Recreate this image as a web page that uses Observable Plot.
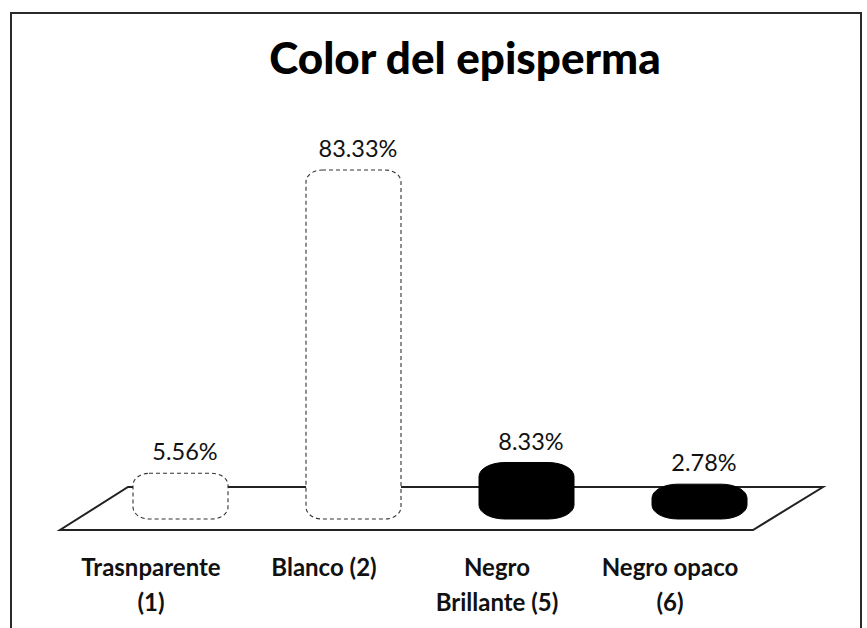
<!DOCTYPE html>
<html>
<head>
<meta charset="utf-8">
<script src="https://cdn.jsdelivr.net/npm/d3@7"></script>
<script src="https://cdn.jsdelivr.net/npm/@observablehq/plot@0.6"></script>
<style>
  html, body { margin: 0; padding: 0; background: #fff; overflow: hidden; }
  #wrap { position: relative; width: 867px; height: 628px; overflow: hidden; background: #fff; }
  #border { position: absolute; left: 10px; top: 12px; width: 852px; height: 640px; border: 2px solid #2a2a2a; box-sizing: border-box; }
  #title { position: absolute; left: 465px; top: 35px; transform: translateX(-50%); white-space: nowrap;
           font-family: Lato, "Open Sans", sans-serif; font-weight: 900; font-size: 44px; line-height: 1; color: #000; }
  #chart { position: absolute; left: 0; top: 0; }
</style>
</head>
<body>
<div id="wrap">
  <div id="border"></div>
  <div id="chart"></div>
  <div id="title">Color del episperma</div>
</div>
<script>
// ---- data ----
const categories = ["Trasnparente\n(1)", "Blanco (2)", "Negro\nBrillante (5)", "Negro opaco\n(6)"];
const values = [5.56, 83.33, 8.33, 2.78];
const valueLabels = ["5.56%", "83.33%", "8.33%", "2.78%"];
const barColors = ["#ffffff", "#ffffff", "#000000", "#000000"];

const data = categories.map((c, i) => ({cat: c, value: values[i], label: valueLabels[i], color: barColors[i]}));
const whiteBars = data.filter(d => d.color === "#ffffff");
const blackBars = data.filter(d => d.color === "#000000");

// 3D floor drawn from the scales / frame dimensions
function floor(index, scales, vals, dims) {
  const r0 = dims.marginLeft, r1 = dims.width - dims.marginRight;
  const y0 = scales.y(0);
  const pts = [[r0 + 30, y0 - 18], [r1 + 40, y0 - 18], [r1 - 30, y0 + 25], [r0 - 38, y0 + 25]];
  const g = d3.create("svg:g");
  g.append("polygon")
    .attr("points", pts.map(p => p.join(",")).join(" "))
    .attr("fill", "#fff")
    .attr("stroke", "#222")
    .attr("stroke-width", 2);
  return g.node();
}

const plot = Plot.plot({
  width: 867,
  height: 628,
  marginLeft: 98,
  marginRight: 84,
  marginTop: 115,
  marginBottom: 123,
  style: {background: "transparent", fontFamily: "Lato, 'Open Sans', sans-serif"},
  x: {domain: categories, paddingInner: 0.45, paddingOuter: 0.2, axis: null},
  y: {domain: [0, 100], axis: null},
  marks: [
    floor,
    Plot.barY(whiteBars, {
      x: "cat", y: "value",
      fill: "#fff",
      stroke: "#333",
      strokeWidth: 1.1,
      strokeDasharray: "4,3",
      rx: 16, ry: 12,
      insetTop: -10, insetBottom: -14
    }),
    Plot.barY(blackBars, {
      x: "cat", y: "value",
      fill: "#000",
      stroke: "#000",
      rx: 26, ry: 14,
      insetTop: -10, insetBottom: -14
    }),
    Plot.text(data, {
      x: "cat", y: "value", text: "label",
      dy: -31, dx: 4,
      fontSize: 23.5, fill: "#111"
    }),
    Plot.text(data, {
      x: "cat", y: () => 0, text: "cat",
      dx: -30, dy: 46, lineAnchor: "top",
      fontSize: 24, fontWeight: "bold", lineHeight: 1.45, fill: "#111"
    })
  ]
});
document.getElementById("chart").appendChild(plot);
</script>
</body>
</html>
